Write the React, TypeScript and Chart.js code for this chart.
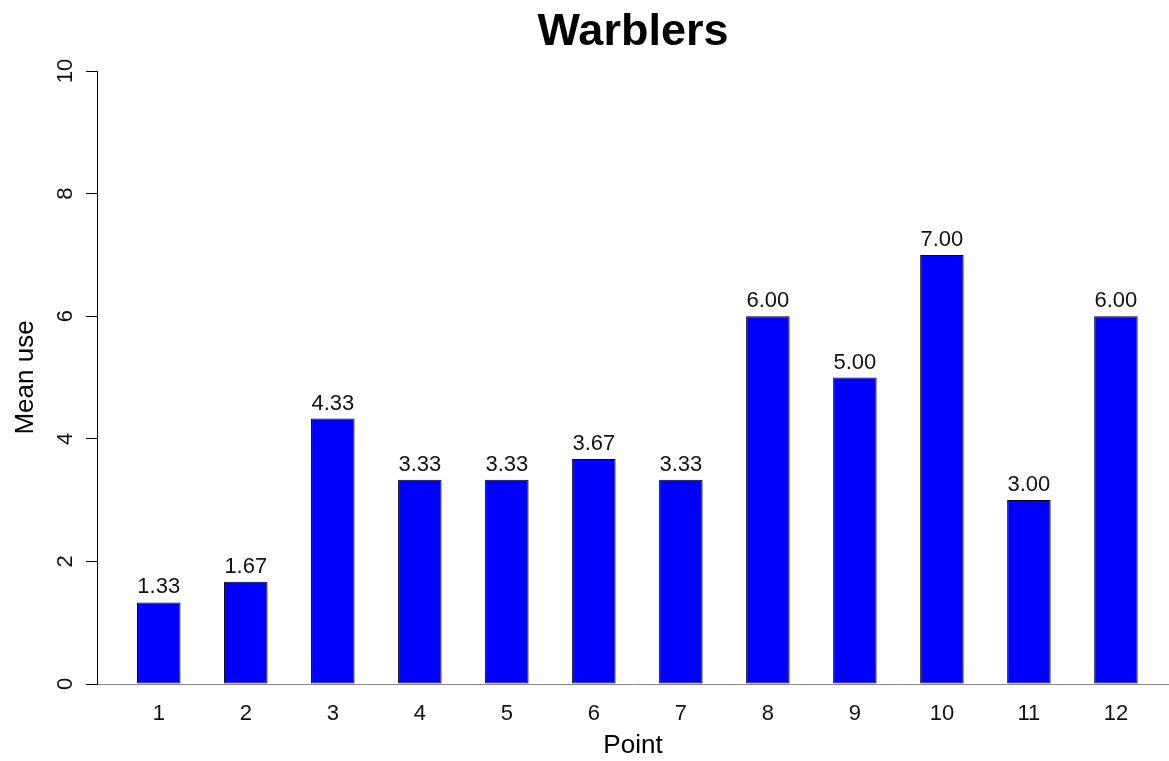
import React, { useEffect, useRef } from "react";
import { Chart, registerables } from "chart.js";

Chart.register(...registerables);

const points = [1, 2, 3, 4, 5, 6, 7, 8, 9, 10, 11, 12];
const meanUse = [1.33, 1.67, 4.33, 3.33, 3.33, 3.67, 3.33, 6.0, 5.0, 7.0, 3.0, 6.0];
const yTicks = [0, 2, 4, 6, 8, 10];
const titleText = "Warblers";
const xTitle = "Point";
const yTitle = "Mean use";

const FONT = "'Liberation Sans', Arial, Helvetica, sans-serif";

const overlay = {
  id: "overlay",
  afterDatasetsDraw(chart: any) {
    const ctx = chart.ctx;
    const meta = chart.getDatasetMeta(0);
    ctx.save();
    ctx.fillStyle = "#111";
    ctx.font = `22px ${FONT}`;
    ctx.textAlign = "center";
    ctx.textBaseline = "alphabetic";
    meta.data.forEach((el: any, i: number) => {
      ctx.fillText(meanUse[i].toFixed(2), el.x, el.y - 9);
    });
    // y tick labels, rotated like R's
    const ys = chart.scales.y;
    ctx.font = `22px ${FONT}`;
    ctx.textBaseline = "middle";
    yTicks.forEach((v) => {
      const py = ys.getPixelForValue(v);
      ctx.save();
      ctx.translate(66, py);
      ctx.rotate(-Math.PI / 2);
      ctx.textAlign = "center";
      ctx.fillText(String(v), 0, 0);
      ctx.restore();
    });
    ctx.restore();
  },
};

export default function App() {
  const ref = useRef<HTMLCanvasElement>(null);
  useEffect(() => {
    if (!ref.current) return;
    const chart = new Chart(ref.current, {
      type: "bar",
      data: {
        datasets: [
          {
            data: points.map((p, i) => ({ x: p, y: meanUse[i] })),
            backgroundColor: "#0000FF",
            borderColor: "#000000",
            borderWidth: 1,
            borderSkipped: false,
            barPercentage: 0.5,
            categoryPercentage: 1,
          },
        ],
      },
      options: {
        animation: false,
        responsive: true,
        maintainAspectRatio: false,
        layout: { padding: { left: 0, right: 0, top: 0, bottom: 0 } },
        plugins: {
          legend: { display: false },
          tooltip: { enabled: false },
          title: {
            display: true,
            text: titleText,
            fullSize: false,
            color: "#000",
            font: { family: FONT, size: 45, weight: "bold", lineHeight: 1.2 },
            padding: { top: 6, bottom: 11 },
          },
        },
        scales: {
          x: {
            type: "linear",
            offset: false,
            min: 0.29,
            max: 12.61,
            afterBuildTicks: (s: any) => {
              s.ticks = points.map((p) => ({ value: p }));
            },
            afterFit: (s: any) => {
              s.height = 77;
            },
            grid: { display: false, drawTicks: false, offset: false },
            border: { display: true, color: "#888", width: 1 },
            ticks: {
              color: "#111",
              font: { family: FONT, size: 22 },
              padding: 17,
              maxRotation: 0,
              autoSkip: false,
              callback: (v: any) => String(v),
            },
            title: {
              display: true,
              text: xTitle,
              color: "#000",
              font: { family: FONT, size: 26, lineHeight: 1.2 },
              padding: { top: 0, bottom: 0 },
            },
          },
          y: {
            type: "linear",
            min: 0,
            max: 10,
            afterBuildTicks: (s: any) => {
              s.ticks = yTicks.map((v) => ({ value: v }));
            },
            afterFit: (s: any) => {
              s.width = 97;
            },
            grid: {
              display: true,
              drawOnChartArea: false,
              drawTicks: true,
              tickLength: 11,
              color: "#000",
              lineWidth: 1,
            },
            border: { display: true, color: "#000", width: 1 },
            ticks: { display: false },
            title: {
              display: true,
              text: yTitle,
              color: "#000",
              font: { family: FONT, size: 26, lineHeight: 1.2 },
              padding: { top: 10, bottom: 0 },
            },
          },
        },
      },
      plugins: [overlay],
    } as any);
    return () => chart.destroy();
  }, []);
  return (
    <div style={{ position: "fixed", left: 0, top: 0, width: 1169, height: 761, background: "#fff" }}>
      <canvas ref={ref} />
    </div>
  );
}
